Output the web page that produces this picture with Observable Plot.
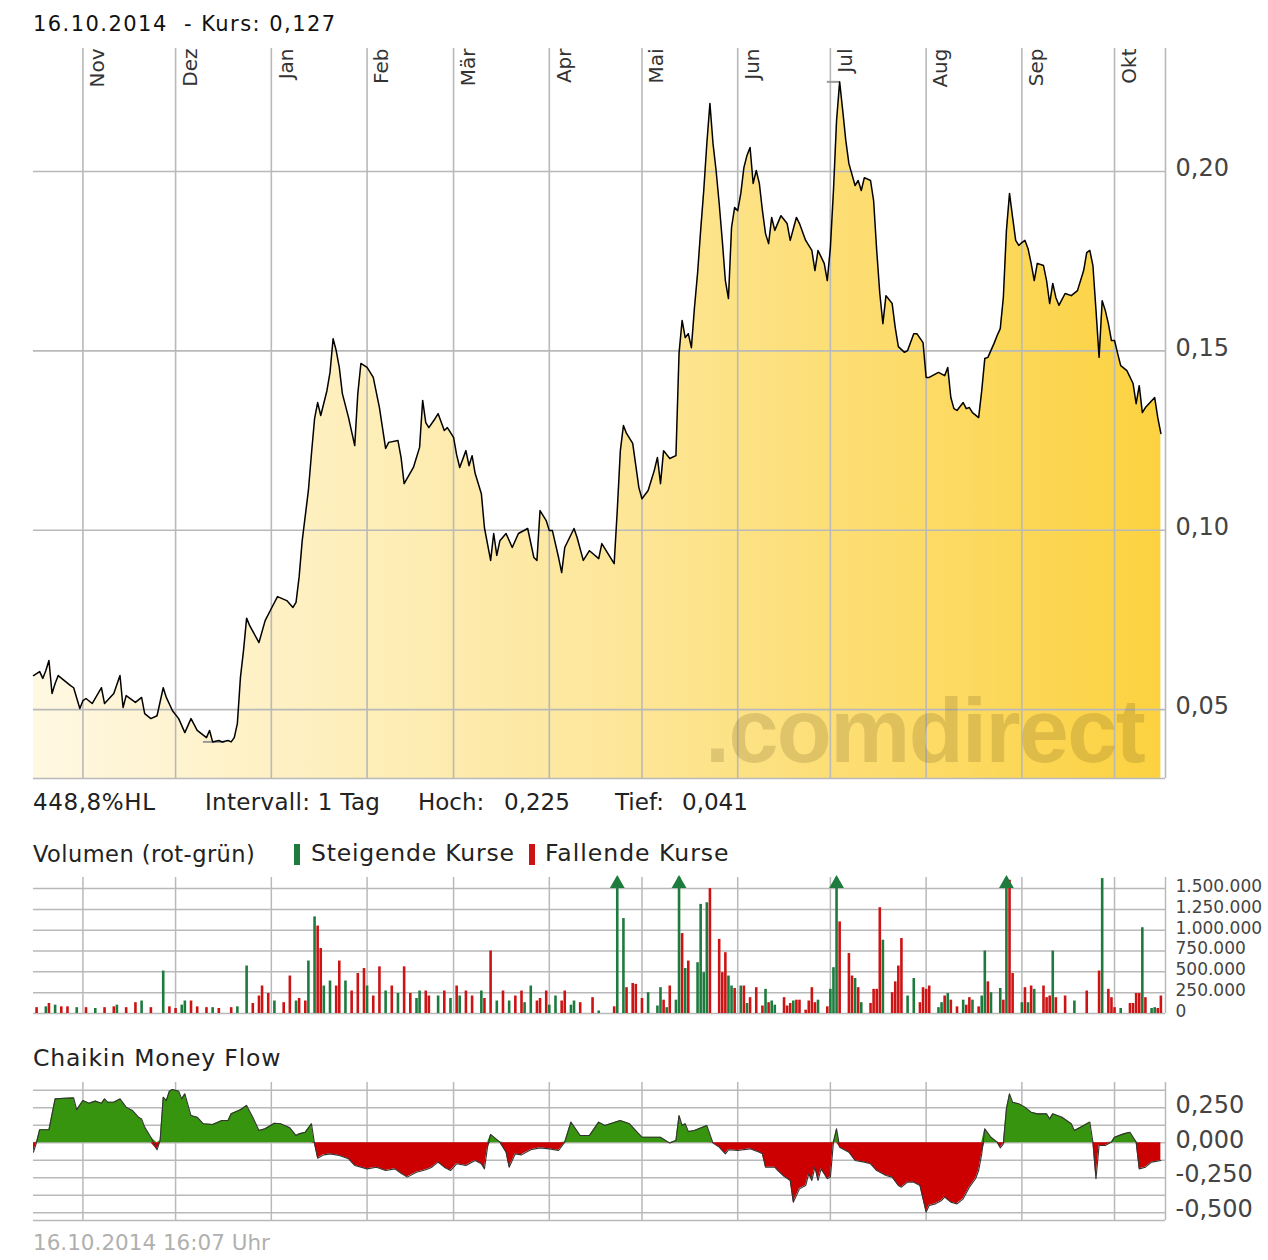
<!DOCTYPE html>
<html><head><meta charset="utf-8">
<script src="https://cdn.jsdelivr.net/npm/d3@7"></script>
<script src="https://cdn.jsdelivr.net/npm/@observablehq/plot@0.6"></script>
<style>
body{margin:0;background:#fff;}
#root{position:relative;width:1268px;height:1260px;overflow:hidden;background:#fff;font-family:'DejaVu Sans',sans-serif;}
.t{position:absolute;white-space:pre;}
.chart{position:absolute;left:0;}
</style></head><body><div id="root"></div>
<script>
// ---------- data ----------
const months = [["2013-11-01","Nov"],["2013-12-01","Dez"],["2014-01-01","Jan"],["2014-02-01","Feb"],["2014-03-01","Mär"],["2014-04-01","Apr"],["2014-05-01","Mai"],["2014-06-01","Jun"],["2014-07-01","Jul"],["2014-08-01","Aug"],["2014-09-01","Sep"],["2014-10-01","Okt"]];
const priceTicks = [0.05, 0.10, 0.15, 0.20];
const volTicks = [0, 250000, 500000, 750000, 1000000, 1250000, 1500000];
const cmfGrid = [-0.5, -0.375, -0.25, -0.125, 0, 0.125, 0.25, 0.375];
const cmfLabels = [0.25, 0, -0.25, -0.5];
const extremes = [["Tief", 0.041, "2013-12-10", "2013-12-17"], ["Hoch", 0.225, "2014-06-30", "2014-07-04"]];

const priceSeries = [
["2013-10-16",0.0595],["2013-10-18",0.0606],["2013-10-19",0.0587],["2013-10-20",0.0609],["2013-10-21",0.0637],["2013-10-22",0.0545],["2013-10-23",0.0573],["2013-10-24",0.0595],["2013-10-26",0.0581],["2013-10-28",0.0567],["2013-10-29",0.0561],["2013-10-31",0.0503],
["2013-11-01",0.0525],["2013-11-02",0.0531],["2013-11-04",0.0517],["2013-11-07",0.0561],["2013-11-08",0.0517],["2013-11-11",0.0545],["2013-11-13",0.0595],["2013-11-14",0.0506],["2013-11-15",0.0539],["2013-11-18",0.0520],["2013-11-20",0.0534],["2013-11-21",0.0489],["2013-11-23",0.0475],["2013-11-25",0.0483],["2013-11-27",0.0561],["2013-11-28",0.0534],["2013-11-30",0.0497],
["2013-12-02",0.0475],["2013-12-04",0.0436],["2013-12-06",0.0475],["2013-12-08",0.0442],["2013-12-11",0.0422],["2013-12-12",0.0442],["2013-12-13",0.0410],["2013-12-15",0.0414],["2013-12-16",0.0410],["2013-12-18",0.0414],["2013-12-19",0.0410],["2013-12-20",0.0422],["2013-12-21",0.0461],["2013-12-22",0.0590],["2013-12-23",0.0665],["2013-12-24",0.0755],["2013-12-25",0.0734],["2013-12-28",0.0687],["2013-12-30",0.0748],
["2014-01-01",0.0782],["2014-01-03",0.0815],["2014-01-06",0.0804],["2014-01-08",0.0785],["2014-01-09",0.0799],["2014-01-10",0.0870],["2014-01-11",0.0971],["2014-01-13",0.1111],["2014-01-14",0.1214],["2014-01-15",0.1311],["2014-01-16",0.1356],["2014-01-17",0.1320],["2014-01-19",0.1389],["2014-01-20",0.1440],["2014-01-21",0.1534],["2014-01-22",0.1501],["2014-01-23",0.1454],["2014-01-24",0.1381],["2014-01-26",0.1314],["2014-01-28",0.1236],["2014-01-29",0.1381],["2014-01-30",0.1465],
["2014-02-01",0.1454],["2014-02-03",0.1426],["2014-02-05",0.1342],["2014-02-07",0.1228],["2014-02-08",0.1245],["2014-02-11",0.1250],["2014-02-12",0.1203],["2014-02-13",0.1130],["2014-02-16",0.1175],["2014-02-18",0.1231],["2014-02-19",0.1362],["2014-02-20",0.1300],["2014-02-21",0.1286],["2014-02-23",0.1311],["2014-02-24",0.1325],["2014-02-26",0.1278],["2014-02-27",0.1286],
["2014-03-01",0.1259],["2014-03-02",0.1210],["2014-03-03",0.1175],["2014-03-05",0.1222],["2014-03-06",0.1180],["2014-03-07",0.1208],["2014-03-08",0.1158],["2014-03-10",0.1102],["2014-03-11",0.1007],["2014-03-13",0.0916],["2014-03-14",0.0991],["2014-03-15",0.0930],["2014-03-16",0.0971],["2014-03-18",0.0991],["2014-03-20",0.0952],["2014-03-22",0.0991],["2014-03-25",0.1005],["2014-03-27",0.0924],["2014-03-28",0.0916],["2014-03-29",0.1055],["2014-03-31",0.1027],
["2014-04-01",0.0999],["2014-04-02",0.0999],["2014-04-04",0.0924],["2014-04-05",0.0882],["2014-04-06",0.0952],["2014-04-09",0.1005],["2014-04-10",0.0980],["2014-04-12",0.0916],["2014-04-14",0.0943],["2014-04-17",0.0921],["2014-04-18",0.0963],["2014-04-20",0.0935],["2014-04-22",0.0907],["2014-04-23",0.1055],["2014-04-24",0.1222],["2014-04-25",0.1292],["2014-04-26",0.1270],["2014-04-28",0.1242],["2014-04-30",0.1119],
["2014-05-01",0.1088],["2014-05-03",0.1111],["2014-05-05",0.1167],["2014-05-06",0.1203],["2014-05-07",0.1130],["2014-05-08",0.1222],["2014-05-10",0.1200],["2014-05-12",0.1208],["2014-05-13",0.1493],["2014-05-14",0.1585],["2014-05-15",0.1537],["2014-05-16",0.1548],["2014-05-17",0.1509],["2014-05-18",0.1621],["2014-05-19",0.1716],["2014-05-20",0.1836],["2014-05-21",0.1947],["2014-05-22",0.2078],["2014-05-23",0.2190],["2014-05-24",0.2078],["2014-05-25",0.2003],["2014-05-26",0.1911],["2014-05-27",0.1808],["2014-05-28",0.1696],["2014-05-29",0.1646],["2014-05-30",0.1844],["2014-05-31",0.1900],
["2014-06-01",0.1891],["2014-06-02",0.1939],["2014-06-03",0.2011],["2014-06-04",0.2045],["2014-06-05",0.2067],["2014-06-06",0.1967],["2014-06-07",0.2003],["2014-06-08",0.1967],["2014-06-09",0.1891],["2014-06-10",0.1827],["2014-06-11",0.1799],["2014-06-12",0.1872],["2014-06-13",0.1836],["2014-06-15",0.1877],["2014-06-17",0.1855],["2014-06-18",0.1808],["2014-06-20",0.1872],["2014-06-21",0.1855],["2014-06-23",0.1808],["2014-06-25",0.1780],["2014-06-26",0.1724],["2014-06-27",0.1780],["2014-06-29",0.1744],["2014-06-30",0.1696],
["2014-07-01",0.1788],["2014-07-02",0.1947],["2014-07-03",0.2142],["2014-07-04",0.2250],["2014-07-05",0.2170],["2014-07-06",0.2086],["2014-07-07",0.2022],["2014-07-09",0.1961],["2014-07-10",0.1975],["2014-07-11",0.1947],["2014-07-12",0.1983],["2014-07-14",0.1975],["2014-07-15",0.1919],["2014-07-16",0.1780],["2014-07-17",0.1660],["2014-07-18",0.1576],["2014-07-19",0.1654],["2014-07-21",0.1632],["2014-07-22",0.1565],["2014-07-23",0.1512],["2014-07-25",0.1496],["2014-07-26",0.1501],["2014-07-28",0.1548],["2014-07-29",0.1548],["2014-07-31",0.1523],
["2014-08-01",0.1426],["2014-08-02",0.1426],["2014-08-05",0.1440],["2014-08-07",0.1431],["2014-08-08",0.1454],["2014-08-09",0.1370],["2014-08-10",0.1339],["2014-08-11",0.1334],["2014-08-13",0.1356],["2014-08-14",0.1339],["2014-08-15",0.1342],["2014-08-16",0.1328],["2014-08-18",0.1314],["2014-08-19",0.1389],["2014-08-20",0.1479],["2014-08-21",0.1482],["2014-08-23",0.1521],["2014-08-24",0.1543],["2014-08-25",0.1562],["2014-08-26",0.1649],["2014-08-27",0.1836],["2014-08-28",0.1939],["2014-08-29",0.1872],["2014-08-30",0.1808],["2014-08-31",0.1794],
["2014-09-01",0.1802],["2014-09-02",0.1808],["2014-09-03",0.1785],["2014-09-04",0.1744],["2014-09-05",0.1696],["2014-09-06",0.1744],["2014-09-08",0.1738],["2014-09-09",0.1696],["2014-09-10",0.1632],["2014-09-11",0.1688],["2014-09-12",0.1649],["2014-09-13",0.1627],["2014-09-15",0.1660],["2014-09-17",0.1654],["2014-09-19",0.1668],["2014-09-21",0.1724],["2014-09-22",0.1774],["2014-09-23",0.1780],["2014-09-24",0.1738],["2014-09-25",0.1613],["2014-09-26",0.1482],["2014-09-27",0.1640],["2014-09-28",0.1613],["2014-09-29",0.1576],["2014-09-30",0.1529],
["2014-10-01",0.1529],["2014-10-02",0.1493],["2014-10-03",0.1459],["2014-10-05",0.1445],["2014-10-07",0.1409],["2014-10-08",0.1353],["2014-10-09",0.1403],["2014-10-10",0.1328],["2014-10-11",0.1342],["2014-10-14",0.1370],["2014-10-15",0.1314],["2014-10-16",0.1270]
];

const volumeSeries = [
["2013-10-17",70000,"r"],["2013-10-20",80000,"g"],["2013-10-21",120000,"r"],["2013-10-23",100000,"g"],["2013-10-25",80000,"r"],["2013-10-27",80000,"r"],["2013-10-30",70000,"g"],["2013-11-02",70000,"r"],["2013-11-05",60000,"g"],["2013-11-08",70000,"r"],["2013-11-11",80000,"r"],["2013-11-12",100000,"g"],["2013-11-15",70000,"r"],["2013-11-18",130000,"r"],["2013-11-20",150000,"g"],["2013-11-23",70000,"r"],["2013-11-27",510000,"g"],["2013-11-29",80000,"r"],
["2013-12-01",60000,"r"],["2013-12-03",100000,"g"],["2013-12-04",150000,"g"],["2013-12-06",150000,"r"],["2013-12-08",80000,"r"],["2013-12-11",70000,"r"],["2013-12-13",70000,"g"],["2013-12-15",60000,"r"],["2013-12-19",70000,"r"],["2013-12-21",80000,"g"],["2013-12-24",570000,"g"],["2013-12-26",120000,"r"],["2013-12-28",210000,"r"],["2013-12-29",330000,"r"],["2013-12-31",240000,"r"],
["2014-01-02",150000,"g"],["2014-01-05",130000,"r"],["2014-01-07",450000,"r"],["2014-01-09",150000,"g"],["2014-01-10",180000,"r"],["2014-01-12",150000,"r"],["2014-01-13",630000,"g"],["2014-01-15",1160000,"g"],["2014-01-16",1050000,"r"],["2014-01-17",780000,"r"],["2014-01-18",330000,"g"],["2014-01-20",390000,"g"],["2014-01-22",330000,"r"],["2014-01-23",630000,"r"],["2014-01-25",390000,"g"],["2014-01-27",270000,"r"],["2014-01-29",480000,"r"],["2014-01-31",540000,"r"],
["2014-02-01",330000,"g"],["2014-02-03",210000,"r"],["2014-02-05",560000,"r"],["2014-02-07",270000,"g"],["2014-02-09",330000,"r"],["2014-02-11",240000,"g"],["2014-02-13",560000,"r"],["2014-02-15",240000,"r"],["2014-02-17",180000,"g"],["2014-02-18",270000,"g"],["2014-02-20",270000,"r"],["2014-02-21",210000,"r"],["2014-02-24",210000,"g"],["2014-02-26",270000,"r"],["2014-02-28",180000,"g"],
["2014-03-02",330000,"r"],["2014-03-03",210000,"g"],["2014-03-05",270000,"r"],["2014-03-07",210000,"r"],["2014-03-10",270000,"g"],["2014-03-11",180000,"r"],["2014-03-13",750000,"r"],["2014-03-15",150000,"g"],["2014-03-17",270000,"r"],["2014-03-19",150000,"g"],["2014-03-21",210000,"r"],["2014-03-23",270000,"r"],["2014-03-24",130000,"g"],["2014-03-26",330000,"g"],["2014-03-28",150000,"r"],["2014-03-29",180000,"r"],["2014-03-31",270000,"r"],
["2014-04-01",100000,"g"],["2014-04-03",210000,"g"],["2014-04-05",150000,"r"],["2014-04-06",270000,"r"],["2014-04-08",100000,"g"],["2014-04-09",150000,"g"],["2014-04-11",130000,"r"],["2014-04-15",190000,"r"],["2014-04-17",30000,"g"],["2014-04-22",80000,"r"],["2014-04-23",2000000,"g"],["2014-04-25",1140000,"g"],["2014-04-26",310000,"r"],["2014-04-28",360000,"r"],["2014-04-29",350000,"r"],
["2014-05-01",180000,"r"],["2014-05-03",250000,"g"],["2014-05-06",90000,"g"],["2014-05-07",310000,"g"],["2014-05-08",160000,"r"],["2014-05-09",70000,"g"],["2014-05-10",330000,"r"],["2014-05-12",160000,"g"],["2014-05-13",2000000,"g"],["2014-05-14",960000,"r"],["2014-05-15",540000,"g"],["2014-05-16",630000,"r"],["2014-05-19",610000,"g"],["2014-05-20",1310000,"g"],["2014-05-21",490000,"g"],["2014-05-22",1330000,"g"],["2014-05-23",1500000,"r"],["2014-05-26",890000,"r"],["2014-05-27",490000,"r"],["2014-05-28",730000,"r"],["2014-05-29",450000,"g"],["2014-05-30",330000,"g"],["2014-05-31",300000,"r"],
["2014-06-02",330000,"g"],["2014-06-03",330000,"r"],["2014-06-04",120000,"g"],["2014-06-05",190000,"r"],["2014-06-07",310000,"r"],["2014-06-09",90000,"r"],["2014-06-10",290000,"g"],["2014-06-11",130000,"r"],["2014-06-12",150000,"g"],["2014-06-13",100000,"g"],["2014-06-16",190000,"r"],["2014-06-17",90000,"r"],["2014-06-18",120000,"r"],["2014-06-19",150000,"g"],["2014-06-20",160000,"r"],["2014-06-21",160000,"r"],["2014-06-23",40000,"r"],["2014-06-24",150000,"r"],["2014-06-25",310000,"r"],["2014-06-26",130000,"r"],["2014-06-27",160000,"g"],["2014-06-30",80000,"r"],
["2014-07-01",290000,"g"],["2014-07-02",550000,"g"],["2014-07-03",2000000,"g"],["2014-07-04",1100000,"r"],["2014-07-07",720000,"r"],["2014-07-08",450000,"r"],["2014-07-09",420000,"g"],["2014-07-10",310000,"r"],["2014-07-11",130000,"g"],["2014-07-14",120000,"r"],["2014-07-15",290000,"r"],["2014-07-16",290000,"r"],["2014-07-17",1270000,"r"],["2014-07-18",880000,"g"],["2014-07-21",250000,"r"],["2014-07-22",380000,"r"],["2014-07-23",570000,"r"],["2014-07-24",900000,"r"],["2014-07-26",210000,"g"],["2014-07-28",420000,"g"],["2014-07-30",130000,"r"],["2014-07-31",310000,"r"],
["2014-08-01",290000,"r"],["2014-08-02",330000,"r"],["2014-08-05",70000,"g"],["2014-08-06",130000,"g"],["2014-08-07",210000,"r"],["2014-08-08",240000,"g"],["2014-08-09",160000,"r"],["2014-08-11",80000,"r"],["2014-08-13",160000,"g"],["2014-08-14",100000,"r"],["2014-08-15",190000,"r"],["2014-08-16",160000,"g"],["2014-08-18",80000,"r"],["2014-08-19",210000,"g"],["2014-08-20",750000,"g"],["2014-08-21",380000,"r"],["2014-08-22",250000,"g"],["2014-08-25",300000,"g"],["2014-08-26",160000,"r"],["2014-08-27",2000000,"g"],["2014-08-28",1600000,"r"],["2014-08-29",480000,"r"],
["2014-09-01",130000,"g"],["2014-09-02",310000,"r"],["2014-09-03",130000,"g"],["2014-09-04",330000,"r"],["2014-09-05",290000,"g"],["2014-09-08",330000,"r"],["2014-09-09",190000,"r"],["2014-09-10",210000,"r"],["2014-09-11",750000,"g"],["2014-09-12",190000,"r"],["2014-09-15",210000,"r"],["2014-09-18",150000,"g"],["2014-09-22",270000,"r"],["2014-09-26",510000,"r"],["2014-09-27",1620000,"g"],["2014-09-29",290000,"r"],["2014-09-30",190000,"r"],
["2014-10-01",70000,"r"],["2014-10-03",60000,"g"],["2014-10-06",120000,"r"],["2014-10-07",120000,"r"],["2014-10-08",240000,"r"],["2014-10-09",240000,"r"],["2014-10-10",1030000,"g"],["2014-10-11",190000,"r"],["2014-10-13",60000,"g"],["2014-10-14",70000,"g"],["2014-10-15",60000,"r"],["2014-10-16",210000,"r"]
];

const cmfSeries = [
["2013-10-16",-0.067],["2013-10-17",0.005],["2013-10-18",0.093],["2013-10-21",0.093],["2013-10-23",0.314],["2013-10-26",0.319],["2013-10-29",0.321],["2013-10-30",0.236],
["2013-11-01",0.302],["2013-11-03",0.283],["2013-11-05",0.298],["2013-11-07",0.283],["2013-11-08",0.314],["2013-11-09",0.290],["2013-11-11",0.290],["2013-11-13",0.314],["2013-11-15",0.255],["2013-11-17",0.231],["2013-11-19",0.183],["2013-11-20",0.171],["2013-11-21",0.112],["2013-11-23",0.040],["2013-11-25",-0.050],["2013-11-26",0.017],["2013-11-27",0.326],["2013-11-28",0.302],["2013-11-29",0.369],["2013-11-30",0.381],
["2013-12-02",0.369],["2013-12-03",0.314],["2013-12-04",0.350],["2013-12-06",0.195],["2013-12-08",0.183],["2013-12-10",0.136],["2013-12-13",0.131],["2013-12-16",0.160],["2013-12-18",0.160],["2013-12-19",0.207],["2013-12-22",0.236],["2013-12-24",0.267],["2013-12-26",0.183],["2013-12-28",0.088],["2013-12-30",0.100],
["2014-01-02",0.140],["2014-01-04",0.136],["2014-01-07",0.107],["2014-01-09",0.052],["2014-01-10",0.064],["2014-01-12",0.076],["2014-01-14",0.136],["2014-01-15",-0.007],["2014-01-16",-0.110],["2014-01-18",-0.086],["2014-01-20",-0.079],["2014-01-23",-0.090],["2014-01-26",-0.114],["2014-01-28",-0.162],
["2014-02-01",-0.186],["2014-02-04",-0.174],["2014-02-07",-0.198],["2014-02-10",-0.186],["2014-02-12",-0.217],["2014-02-14",-0.245],["2014-02-17",-0.210],["2014-02-20",-0.193],["2014-02-22",-0.174],["2014-02-24",-0.138],["2014-02-26",-0.174],["2014-02-28",-0.198],
["2014-03-02",-0.150],["2014-03-05",-0.162],["2014-03-08",-0.126],["2014-03-10",-0.150],["2014-03-11",-0.186],["2014-03-12",-0.031],["2014-03-13",0.060],["2014-03-16",0.005],["2014-03-18",-0.067],["2014-03-19",-0.174],["2014-03-21",-0.079],["2014-03-23",-0.086],["2014-03-26",-0.050],["2014-03-29",-0.036],
["2014-04-01",-0.043],["2014-04-04",-0.055],["2014-04-06",0.005],["2014-04-08",0.148],["2014-04-11",0.052],["2014-04-14",0.052],["2014-04-17",0.148],["2014-04-19",0.124],["2014-04-24",0.160],["2014-04-27",0.136],["2014-04-29",0.088],
["2014-05-01",0.040],["2014-05-07",0.040],["2014-05-10",-0.002],["2014-05-12",0.017],["2014-05-13",0.195],["2014-05-14",0.124],["2014-05-15",0.136],["2014-05-16",0.081],["2014-05-18",0.088],["2014-05-22",0.124],["2014-05-24",-0.002],["2014-05-26",-0.031],["2014-05-28",-0.079],["2014-05-29",-0.050],
["2014-06-01",-0.055],["2014-06-05",-0.043],["2014-06-08",-0.067],["2014-06-09",-0.079],["2014-06-10",-0.174],["2014-06-13",-0.174],["2014-06-14",-0.198],["2014-06-16",-0.240],["2014-06-18",-0.269],["2014-06-19",-0.424],["2014-06-21",-0.329],["2014-06-23",-0.305],["2014-06-24",-0.221],["2014-06-25",-0.269],["2014-06-26",-0.174],["2014-06-27",-0.269],["2014-06-28",-0.186],["2014-06-29",-0.221],["2014-06-30",-0.257],
["2014-07-01",-0.245],["2014-07-02",0.005],["2014-07-03",0.100],["2014-07-04",-0.031],["2014-07-07",-0.067],["2014-07-09",-0.126],["2014-07-12",-0.138],["2014-07-14",-0.150],["2014-07-16",-0.198],["2014-07-19",-0.233],["2014-07-21",-0.245],["2014-07-23",-0.305],["2014-07-24",-0.317],["2014-07-26",-0.281],["2014-07-28",-0.281],["2014-07-30",-0.305],["2014-07-31",-0.400],
["2014-08-01",-0.495],["2014-08-02",-0.448],["2014-08-04",-0.436],["2014-08-06",-0.412],["2014-08-07",-0.388],["2014-08-09",-0.424],["2014-08-11",-0.436],["2014-08-13",-0.400],["2014-08-15",-0.317],["2014-08-17",-0.257],["2014-08-18",-0.198],["2014-08-19",-0.079],["2014-08-20",0.100],["2014-08-22",0.040],["2014-08-24",0.005],["2014-08-25",-0.036],["2014-08-26",-0.007],["2014-08-27",0.243],["2014-08-28",0.350],["2014-08-29",0.290],["2014-08-31",0.279],
["2014-09-02",0.255],["2014-09-04",0.219],["2014-09-06",0.207],["2014-09-09",0.207],["2014-09-10",0.171],["2014-09-11",0.207],["2014-09-14",0.183],["2014-09-17",0.136],["2014-09-18",0.088],["2014-09-20",0.112],["2014-09-23",0.148],["2014-09-24",0.005],["2014-09-25",-0.257],["2014-09-26",-0.019],["2014-09-28",-0.019],["2014-09-30",0.005],
["2014-10-01",0.040],["2014-10-04",0.064],["2014-10-06",0.076],["2014-10-08",0.005],["2014-10-09",-0.186],["2014-10-11",-0.174],["2014-10-13",-0.138],["2014-10-16",-0.126]
];

// ---------- setup ----------
const parse = s => new Date(s + "T00:00:00Z");
const price = priceSeries.map(([d, v]) => ({date: parse(d), value: v}));
const volume = volumeSeries.map(([d, v, c]) => ({date: parse(d), vol: v, dir: c}));
const cmf = cmfSeries.map(([d, v]) => ({date: parse(d), value: v}));
const monthData = months.map(([d, l]) => ({date: parse(d), label: l}));
const extremeData = extremes.map(([n, v, a, b]) => ({name: n, value: v, x1: parse(a), x2: parse(b)}));

const de = d3.formatLocale({decimal: ",", thousands: ".", grouping: [3], currency: ["", "€"], minus: "-"});
const fmt2 = de.format(".2f"), fmt3 = de.format(".3f"), fmtInt = de.format(",d");

const xDomain = [new Date("2013-10-16T00:00:00Z"), new Date("2014-10-17T12:00:00Z")];
const priceDomain = [0.0308, 0.2343];
const volDomain = [0, 1633000];
const cmfDomain = [-0.555, 0.431];
const grid = "#b9b9b9";
const upColor = "#1e7b3e", downColor = "#cc1414";
const cmfUp = "#37940f", cmfDown = "#cc0000";
const FONT = "'DejaVu Sans', sans-serif";
const common = {width: 1268, marginLeft: 33, marginRight: 103, style: {fontFamily: FONT, background: "transparent", overflow: "visible"}};

const root = document.getElementById("root");
function addText(txt, left, top, size, css = "") {
  const el = document.createElement("div");
  el.className = "t";
  el.textContent = txt;
  el.style.cssText += `left:${left}px;top:${top}px;font-size:${size}px;line-height:${size}px;${css}`;
  root.appendChild(el);
  return el;
}
function place(svg, top) {
  svg.classList.add("chart");
  svg.style.top = top + "px";
  root.appendChild(svg);
}

// ---------- price chart ----------
const priceChart = Plot.plot({
  ...common, height: 742, marginTop: 8, marginBottom: 4,
  x: {type: "utc", domain: xDomain, axis: null},
  y: {domain: priceDomain, axis: null},
  marks: [
    Plot.areaY(price, {x: "date", y1: priceDomain[0], y2: "value", fill: "url(#priceGrad)"}),
    Plot.ruleY(priceTicks, {stroke: grid, strokeWidth: 1.6}),
    Plot.ruleX(monthData, {x: "date", stroke: grid, strokeWidth: 1.6}),
    Plot.ruleX([xDomain[1]], {stroke: grid, strokeWidth: 1.6}),
    Plot.ruleY([priceDomain[0]], {stroke: grid, strokeWidth: 1.6}),
    Plot.ruleY(extremeData, {y: "value", x1: "x1", x2: "x2", stroke: "#9a9a9a", strokeWidth: 2}),
    Plot.line(price, {x: "date", y: "value", stroke: "#000", strokeWidth: 1.5}),
    Plot.text(monthData, {x: "date", frameAnchor: "top", text: "label", rotate: -90, textAnchor: "end", dx: 7, dy: 0, fontSize: 20, fill: "#333"}),
    Plot.text(priceTicks, {y: d => d, text: d => fmt2(d), frameAnchor: "right", textAnchor: "start", dx: 10, dy: -3, fontSize: 24, fill: "#444"})
  ]
});
{
  const ns = "http://www.w3.org/2000/svg";
  const defs = document.createElementNS(ns, "defs");
  defs.innerHTML = '<linearGradient id="priceGrad" x1="0" x2="1" y1="0" y2="0"><stop offset="0" stop-color="#fff8e2"/><stop offset="0.5" stop-color="#fde79c"/><stop offset="1" stop-color="#fcd240"/></linearGradient>';
  priceChart.prepend(defs);
}
place(priceChart, 40);

// ---------- volume chart ----------
const volChart = Plot.plot({
  ...common, height: 145, marginTop: 7, marginBottom: 2,
  x: {type: "utc", domain: xDomain, axis: null},
  y: {domain: volDomain, axis: null},
  marks: [
    Plot.ruleY(volTicks, {stroke: grid, strokeWidth: 1.5}),
    Plot.ruleX(monthData, {x: "date", stroke: grid, strokeWidth: 1.5}),
    Plot.ruleX([xDomain[1]], {stroke: grid, strokeWidth: 1.5}),
    Plot.ruleX(volume.filter(d => d.dir === "g"), {x: "date", y1: 0, y2: d => Math.min(d.vol, volDomain[1]), stroke: upColor, strokeWidth: 2.6}),
    Plot.ruleX(volume.filter(d => d.dir === "r"), {x: "date", y1: 0, y2: d => Math.min(d.vol, volDomain[1]), stroke: downColor, strokeWidth: 2.6}),
    Plot.dot(volume.filter(d => d.vol > volDomain[1]), {x: "date", y: volDomain[1] * 0.955, symbol: "triangle", r: 5.5, fill: upColor, stroke: null}),
    Plot.text(volTicks, {y: d => d, text: d => fmtInt(d), frameAnchor: "right", textAnchor: "start", dx: 10, dy: -2, fontSize: 17, fill: "#444"})
  ]
});
place(volChart, 870);

// ---------- CMF chart ----------
const cmfChart = Plot.plot({
  ...common, height: 147, marginTop: 7, marginBottom: 2,
  x: {type: "utc", domain: xDomain, axis: null},
  y: {domain: cmfDomain, axis: null},
  marks: [
    Plot.ruleY(cmfGrid, {stroke: grid, strokeWidth: 1.5}),
    Plot.ruleY([cmfDomain[0]], {stroke: grid, strokeWidth: 1.5}),
    Plot.ruleX(monthData, {x: "date", stroke: grid, strokeWidth: 1.5}),
    Plot.ruleX([xDomain[1]], {stroke: grid, strokeWidth: 1.5}),
    Plot.areaY(cmf, {x: "date", y1: 0, y2: d => Math.max(0, d.value), fill: cmfUp}),
    Plot.areaY(cmf, {x: "date", y1: 0, y2: d => Math.min(0, d.value), fill: cmfDown}),
    Plot.line(cmf, {x: "date", y: "value", stroke: "#333", strokeWidth: 1.1}),
    Plot.text(cmfLabels, {y: d => d, text: d => fmt3(d), frameAnchor: "right", textAnchor: "start", dx: 10, dy: -3, fontSize: 24, fill: "#444"})
  ]
});
place(cmfChart, 1075);

// ---------- texts ----------
addText("16.10.2014  - Kurs: 0,127", 33, 14, 21, "letter-spacing:1.45px;color:#111;");
addText(".comdirect", 705, 686, 90, "font-family:'Liberation Sans',sans-serif;font-weight:bold;letter-spacing:-1.6px;color:rgba(95,75,20,0.19);");
addText("448,8%HL", 33, 791, 23, "letter-spacing:0.6px;color:#222;");
addText("Intervall: 1 Tag", 205, 791, 23, "letter-spacing:0.3px;color:#222;");
addText("Hoch:", 418, 791, 23, "color:#222;");
addText("0,225", 504, 791, 23, "color:#222;");
addText("Tief:", 615, 791, 23, "color:#222;");
addText("0,041", 682, 791, 23, "color:#222;");
addText("Volumen (rot-grün)", 33, 843, 22.5, "letter-spacing:0.45px;color:#222;");
addText("Steigende Kurse", 311, 842, 23.5, "letter-spacing:0.8px;color:#222;");
addText("Fallende Kurse", 545, 842, 23.5, "letter-spacing:1px;color:#222;");
{
  const g = document.createElement("div");
  g.style.cssText = `position:absolute;left:294px;top:844px;width:6px;height:21px;background:${upColor};`;
  root.appendChild(g);
  const r = document.createElement("div");
  r.style.cssText = `position:absolute;left:529px;top:844px;width:6px;height:21px;background:${downColor};`;
  root.appendChild(r);
}
addText("Chaikin Money Flow", 33, 1047, 23.5, "letter-spacing:0.8px;color:#222;");
addText("16.10.2014 16:07 Uhr", 33, 1232, 21.5, "color:#b0b0b0;");
</script></body></html>
